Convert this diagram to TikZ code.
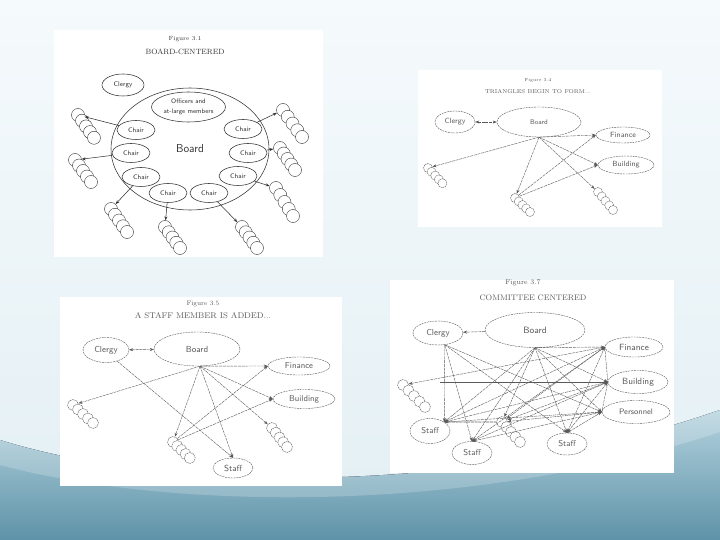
\documentclass[tikz,border=0pt]{standalone}
\usepackage{tikz}
\usetikzlibrary{shapes,arrows.meta,calc}

\definecolor{bgtop}{HTML}{F5FAFC}
\definecolor{bgmid}{HTML}{E3EFF4}
\definecolor{wavetop}{HTML}{B4D3DE}
\definecolor{wavebot}{HTML}{5E92A8}
\definecolor{ink}{HTML}{333333}
\definecolor{pale}{HTML}{5A5A5A}

\tikzset{
  sans/.style={font=\sffamily\fontsize{#1}{#1}\selectfont},
  serif/.style={font=\rmfamily\fontsize{#1}{#1}\selectfont},
  ell/.style={ellipse, draw=ink, line width=0.55pt, inner sep=0pt, text=ink},
  dell/.style={ellipse, draw=pale, dash pattern=on 2pt off 0.8pt, inner sep=0pt, text=pale},
  ring/.style={circle, draw=ink, fill=white, inner sep=0pt, minimum size=13pt},
  dring/.style={circle, draw=pale, dash pattern=on 1.5pt off 0.6pt, fill=white, inner sep=0pt, minimum size=#1},
  arr/.style={draw=ink, line width=0.55pt, ->},
  link/.style={draw=pale, line width=0.4pt, dash pattern=on 3pt off 0.8pt, ->},
  both/.style={link, <->},
  plain/.style={draw=pale, line width=0.4pt, dash pattern=on 3pt off 0.8pt},
}

% five rings in a row: style, name, x, y, dx, dy
\newcommand{\ringstack}[6]{%
  \node[#1] (#2) at (#3,#4) {};
  \foreach \k in {1,...,4}
    \node[#1] at ({#3+\k*#5},{#4+\k*#6}) {};
}

\begin{document}
\begin{tikzpicture}[x=1pt, y=-1pt, >={Stealth[length=4pt,width=3pt]}]
    \useasboundingbox (0,0) rectangle (720,540);

    % Slide background
    \fill[top color=bgtop, bottom color=bgmid] (0,0) rectangle (720,540);
    \fill[top color=wavetop, bottom color=wavebot] (0,440) .. controls (160,490) and (460,500) .. (720,410) -- (720,540) -- (0,540) -- cycle;
    \fill[white, opacity=0.2] (0,440) .. controls (160,490) and (460,500) .. (720,410) -- (720,432) .. controls (460,518) and (160,508) .. (0,465) -- cycle;

    % Panels
    \fill[white] (54,30) rectangle (323,257);
    \fill[white] (418,70) rectangle (662,227);
    \fill[white] (60,297) rectangle (342,486);
    \fill[white] (390,280) rectangle (674,473);

    % Figure 3.1
    \node[serif=6, text=ink] (afig) at (185,39) {Figure 3.1};
    \node[serif=7.6, text=ink] (atitle) at (185,52) {BOARD-CENTERED};
    \node[ell, sans=6.7, minimum width=42, minimum height=22] (aclergy) at (123,85) {Clergy};
    \node[ell, sans=11.5, minimum width=158, minimum height=122] (aboard) at (190,149) {Board};
    \node[ell, font=\sffamily\fontsize{6.5}{9.5}\selectfont, minimum width=74, minimum height=30, align=center] (aoff) at (188.5,107) {Officers and\\at-large members};
    \foreach \n/\x/\y in {1/136/130, 2/131/153, 3/141/177, 4/168/193, 5/209/193, 6/238/176, 7/248/153, 8/243/129}
        \node[ell, sans=6.6, minimum width=38, minimum height=19] (ach\n) at (\x,\y) {Chair};

    \ringstack{ring}{astk1}{78}{115}{4}{5.7}
    \ringstack{ring}{astk2}{75}{160}{4}{5.5}
    \ringstack{ring}{astk3}{111}{209}{4}{5.75}
    \ringstack{ring}{astk4}{165}{227}{3.75}{5.25}
    \ringstack{ring}{astk5}{242}{227}{3.75}{5.25}
    \ringstack{ring}{astk6}{276}{188}{4.25}{7}
    \ringstack{ring}{astk7}{280}{148}{3.75}{5.5}
    \ringstack{ring}{astk8}{283}{110}{4.75}{6.75}

    \foreach \n in {1,...,8}
        \draw[arr] (ach\n) -- (astk\n);

    % Figure 3.4
    \node[serif=4.4, text=pale] (bfig) at (538,80) {Figure 3.4};
    \node[serif=5.6, text=pale] (btitle) at (538,92) {TRIANGLES BEGIN TO FORM...};
    \node[dell, sans=7.5, minimum width=40, minimum height=22] (bclergy) at (455,122) {Clergy};
    \node[dell, sans=6.8, minimum width=84, minimum height=30] (bboard) at (539,122) {Board};
    \node[dell, sans=7.6, minimum width=54, minimum height=16] (bfin) at (623,135) {Finance};
    \node[dell, sans=7.5, minimum width=56, minimum height=18] (bbld) at (626,165) {Building};

    \ringstack{dring=9}{bstk1}{428}{168}{3.6}{3.8}
    \ringstack{dring=9}{bstk2}{515}{198}{3.75}{3.5}
    \ringstack{dring=9}{bstk3}{598}{192}{3.75}{4.5}

    \draw[both] (bclergy) -- (bboard);
    \foreach \t in {bstk1, bstk2, bstk3, bfin.west, bbld.west}
        \draw[link] (bboard.south) -- (\t);
    \draw[link] (bstk2) -- (bfin.west);
    \draw[link] (bstk2) -- (bbld.west);

    % Figure 3.5
    \node[serif=6.5, text=pale] (cfig) at (203,304) {Figure 3.5};
    \node[serif=8.3, text=pale] (ctitle) at (203,316) {A STAFF MEMBER IS ADDED...};
    \node[dell, sans=8.7, minimum width=46, minimum height=25] (cclergy) at (106,350) {Clergy};
    \node[dell, sans=8.8, minimum width=86, minimum height=34] (cboard) at (197,349) {Board};
    \node[dell, sans=8.5, minimum width=62, minimum height=18] (cfin) at (299,366) {Finance};
    \node[dell, sans=8.5, minimum width=62, minimum height=19] (cbld) at (304,399) {Building};
    \node[dell, sans=8.8, minimum width=40, minimum height=20] (cstaff) at (233,468) {Staff};

    \ringstack{dring=11}{cstk1}{73}{405}{5}{4.5}
    \ringstack{dring=11}{cstk2}{173}{442}{4.2}{4}
    \ringstack{dring=11}{cstk3}{272}{428}{3.75}{4.75}

    \draw[both] (cclergy) -- (cboard);
    \draw[link] (cclergy.-45) -- (cstaff.north);
    \foreach \t in {cstk1, cstk2, cstk3, cfin.west, cbld.west, cstaff.north}
        \draw[link] (cboard.-80) -- (\t);
    \draw[link] (cstk2) -- (cfin.west);
    \draw[link] (cstk2) -- (cbld.west);

    % Figure 3.7
    \node[serif=7, text=pale] (dfig) at (523,283) {Figure 3.7};
    \node[serif=8, text=pale] (dtitle) at (533,298) {COMMITTEE CENTERED};
    \node[dell, sans=8.7, minimum width=50, minimum height=24] (dclergy) at (438,333) {Clergy};
    \node[dell, sans=9.2, minimum width=100, minimum height=35] (dboard) at (535,330) {Board};
    \node[dell, sans=9, minimum width=58, minimum height=20] (dfin) at (634,347) {Finance};
    \node[dell, sans=9, minimum width=60, minimum height=23] (dbld) at (638,382) {Building};
    \node[dell, sans=8, minimum width=68, minimum height=23] (dper) at (636,412) {Personnel};
    \node[dell, sans=8.5, minimum width=40, minimum height=25] (dstaffL) at (430,431) {Staff};
    \node[dell, sans=8.5, minimum width=40, minimum height=23] (dstaffM) at (472,453) {Staff};
    \node[dell, sans=8.5, minimum width=40, minimum height=22] (dstaffR) at (567,444) {Staff};
    \coordinate (dfree) at (440,382);

    \ringstack{dring=11}{dstk1}{403}{385}{5.5}{5.5}
    \ringstack{dring=11}{dstk2}{502}{422}{4.5}{5}

    \draw[link] (dboard) -- (dclergy);
    \foreach \t in {dfin.west, dbld.west, dper.west, dstaffL.north east, dstaffM.north, dstaffR.north, dstk2}
        \draw[link] (dboard.south) -- (\t);
    \foreach \t in {dstaffL.north east, dstaffM.north, dstaffR.north, dper.west}
        \draw[link] (dclergy.-60) -- (\t);
    \foreach \s in {dfin, dbld, dper}
        \foreach \t in {dstaffL.north east, dstaffM.north, dstaffR.north}
            \draw[both] (\t) -- (\s.west);
    \draw[link] (dfin.west) -- (dstk1);
    \foreach \s in {dfin, dbld, dper}
        \draw[link] (\s.west) -- (dstk2);
    \draw[plain] (dfin.west) -- (dbld.west) -- (dper.west);
    \draw[link, line width=0.8pt, solid] (dfree) -- (dbld.west);
    \draw[plain, line width=0.8pt] (dstaffL.north east) -- (dstk2);
\end{tikzpicture}
\end{document}
